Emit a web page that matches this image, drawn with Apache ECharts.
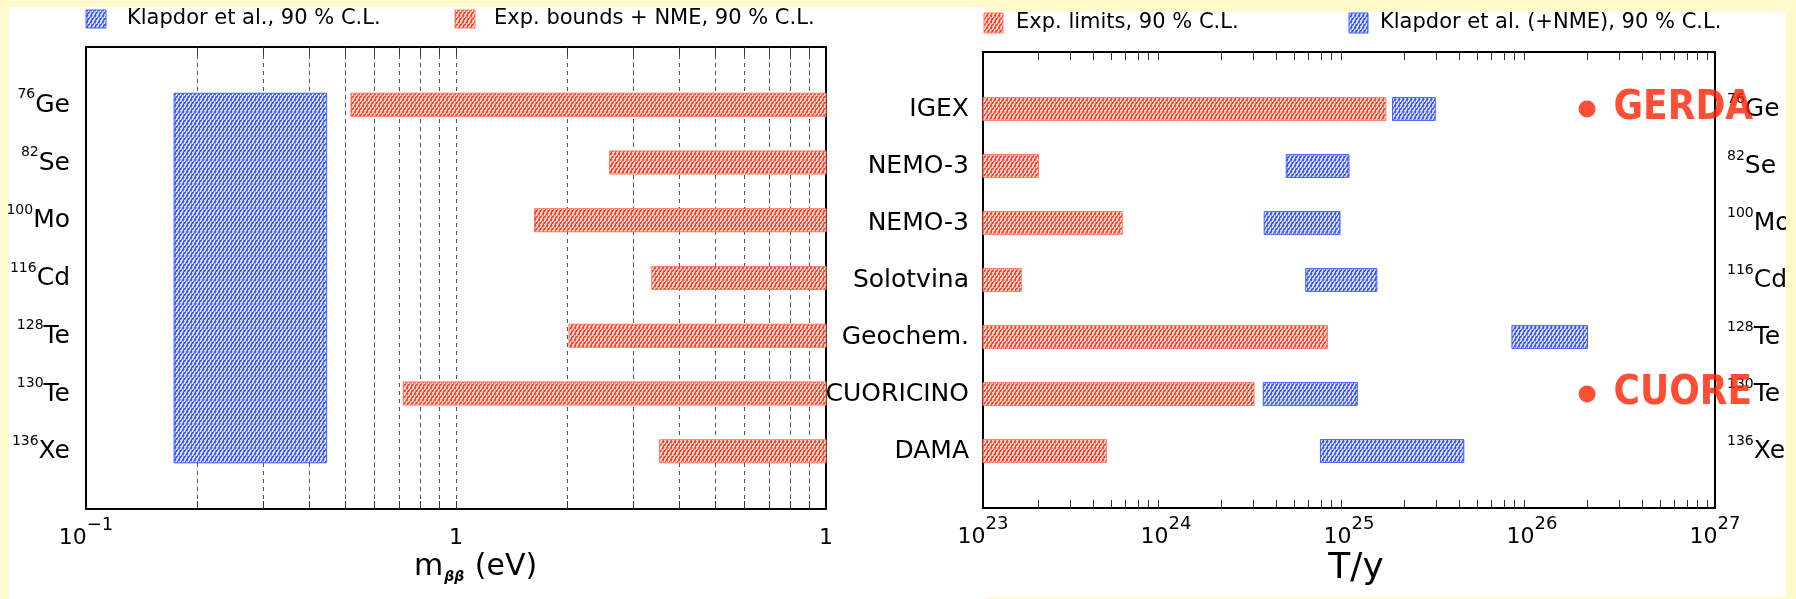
<!DOCTYPE html>
<html>
<head>
<meta charset="utf-8">
<script src="https://cdn.jsdelivr.net/npm/echarts@6/dist/echarts.min.js"></script>
<style>html,body{margin:0;padding:0;background:#FFF9CC;}#chart{width:1796px;height:599px;}</style>
</head>
<body>
<div id="chart"></div>
<script>
// ---------- data ----------
const isotopeMass = ['76', '82', '100', '116', '128', '130', '136'];
const isotopeElem = ['Ge', 'Se', 'Mo', 'Cd', 'Te', 'Te', 'Xe'];
const experiments = ['IGEX', 'NEMO-3', 'NEMO-3', 'Solotvina', 'Geochem.', 'CUORICINO', 'DAMA'];
// left panel: m_bb (eV)
const massBoundLower = [0.52, 2.60, 1.63, 3.38, 2.02, 0.72, 3.55];   // exp. bounds + NME, bar runs to axis max
const klapdorMass = [0.173, 0.447];                                  // Klapdor et al. band, all isotopes
const massAxisRange = [0.1, 10];
const massTickText = { '-1': ['10', '−1'], '0': ['1', ''], '1': ['1', ''] };
const massGridValues = [0.2, 0.3, 0.4, 0.5, 0.6, 0.7, 0.8, 0.9, 1, 2, 3, 4, 5, 6, 7, 8, 9];
// right panel: T / y
const expLimitT = [1.59e25, 2.01e23, 5.77e23, 1.62e23, 7.62e24, 3.03e24, 4.72e23];
const klapdorTLow = [1.73e25, 4.54e24, 3.44e24, 5.80e24, 7.77e25, 3.40e24, 6.98e24];
const klapdorTHigh = [2.96e25, 1.00e25, 8.93e24, 1.42e25, 2.01e26, 1.11e25, 4.24e25];
const timeAxisRange = [1e23, 1e27];
const timeDecades = [23, 24, 25, 26];
const minorMultipliers = [2, 3, 4, 5, 6, 7, 8, 9];
const futureNames = ['GERDA', 'CUORE'];
const futureT = [2e26, 2e26];
const futureRow = [0, 5];
const legendLeft = ['Klapdor et al., 90 % C.L.', 'Exp. bounds + NME, 90 % C.L.'];
const legendRight = ['Exp. limits, 90 % C.L.', 'Klapdor et al. (+NME), 90 % C.L.'];

// ---------- styles ----------
const FONT = '"DejaVu Sans", "Liberation Sans", sans-serif';
function makePattern(base) {
  const c = document.createElement('canvas');
  c.width = 4; c.height = 6;
  const g = c.getContext('2d');
  g.fillStyle = base; g.fillRect(0, 0, 4, 6);
  g.strokeStyle = 'rgba(255,255,255,0.9)'; g.lineWidth = 1.6;
  g.beginPath(); g.moveTo(-1, 8); g.lineTo(3, 0); g.moveTo(3, 8); g.lineTo(7, 0); g.stroke();
  g.fillStyle = 'rgba(255,255,255,0.6)'; g.fillRect(0, 2, 1, 1); g.fillRect(2, 5, 1, 1);
  return { image: c, repeat: 'repeat' };
}
const redPat = makePattern('#ff3a1c');
const bluePat = makePattern('#3452ff');
const RED_BORDER = '#ff7a62';
const BLUE_BORDER = '#4660ff';

const timeMinor = [];
timeDecades.forEach(d => minorMultipliers.forEach(m => timeMinor.push(m * Math.pow(10, d))));

const rowOf = i => i + 1;
const HALF = 0.2;

function barItem(x0, x1, row) { return [x0, x1, row]; }

function renderBar(pattern, border) {
  return function (params, api) {
    const r = api.value(2);
    const a = api.coord([api.value(0), r - HALF]);
    const b = api.coord([api.value(1), r + HALF]);
    return {
      type: 'rect',
      shape: { x: Math.min(a[0], b[0]), y: Math.min(a[1], b[1]), width: Math.abs(b[0] - a[0]), height: Math.abs(b[1] - a[1]) },
      style: { fill: pattern, stroke: border, lineWidth: 1 }
    };
  };
}
function renderBand(pattern, border) {
  return function (params, api) {
    const a = api.coord([api.value(0), api.value(2) - HALF]);
    const b = api.coord([api.value(1), api.value(3) + HALF]);
    return {
      type: 'rect',
      shape: { x: a[0], y: a[1], width: b[0] - a[0], height: b[1] - a[1] },
      style: { fill: pattern, stroke: border, lineWidth: 1 }
    };
  };
}
function renderGrid(dashed, tickLen) {
  return function (params, api) {
    const x = Math.round(api.coord([api.value(0), 0])[0]) + 0.5;
    const cs = params.coordSys;
    const ch = [];
    if (dashed) ch.push({ type: 'line', shape: { x1: x, y1: cs.y, x2: x, y2: cs.y + cs.height }, style: { stroke: '#555', lineWidth: 1, lineDash: [4, 4] } });
    ch.push({ type: 'line', shape: { x1: x, y1: cs.y, x2: x, y2: cs.y + tickLen }, style: { stroke: '#333', lineWidth: 1 } });
    ch.push({ type: 'line', shape: { x1: x, y1: cs.y + cs.height - tickLen, x2: x, y2: cs.y + cs.height }, style: { stroke: '#333', lineWidth: 1 } });
    return { type: 'group', children: ch };
  };
}

const supRich = {
  b: { fontSize: 25, lineHeight: 26, fontFamily: FONT, color: '#000', verticalAlign: 'bottom' },
  s: { fontSize: 14, lineHeight: 14, fontFamily: FONT, color: '#000', verticalAlign: 'bottom', padding: [0, 0, 16, 0] }
};
const expRich = {
  b: { fontSize: 22, lineHeight: 24, fontFamily: FONT, color: '#000', verticalAlign: 'bottom' },
  s: { fontSize: 18, lineHeight: 18, fontFamily: FONT, color: '#000', verticalAlign: 'bottom', padding: [0, 0, 15, 0] }
};
function isoLabel(v) {
  const i = Math.round(v) - 1;
  if (i < 0 || i >= isotopeMass.length) return '';
  return '{s|' + isotopeMass[i] + '}{b|' + isotopeElem[i] + '}';
}
function expLabel(v) {
  const i = Math.round(v) - 1;
  if (i < 0 || i >= experiments.length) return '';
  return '{b|' + experiments[i] + '}';
}
function yAxisBase(grid) {
  return {
    gridIndex: grid, type: 'value', min: 0, max: 8, interval: 1, inverse: true,
    axisLine: { show: false },
    axisTick: { show: true, inside: true, length: 12, lineStyle: { color: '#000', width: 1 } },
    splitLine: { show: false }
  };
}

const chart = echarts.init(document.getElementById('chart'), null, { renderer: 'canvas' });
const option = {
  backgroundColor: '#FFF9CC',
  animation: false,
  grid: [
    { left: 86, top: 47, width: 740, height: 462, show: true, borderColor: '#000', borderWidth: 2, backgroundColor: '#fff', z: 1 },
    { left: 983, top: 52, width: 732, height: 456, show: true, borderColor: '#000', borderWidth: 2, backgroundColor: '#fff', z: 1 }
  ],
  xAxis: [
    {
      gridIndex: 0, type: 'log', logBase: 10, min: massAxisRange[0], max: massAxisRange[1],
      axisLine: { show: false }, axisTick: { show: false }, splitLine: { show: false },
      axisLabel: {
        margin: 16, showMinLabel: true, showMaxLabel: true, hideOverlap: false,
        formatter: v => { const t = massTickText[String(Math.round(Math.log10(v)))]; return t ? '{b|' + t[0] + '}' + (t[1] ? '{s|' + t[1] + '}' : '') : ''; },
        rich: expRich
      }
    },
    {
      gridIndex: 1, type: 'log', logBase: 10, min: timeAxisRange[0], max: timeAxisRange[1],
      axisLine: { show: false }, axisTick: { show: false },
      splitLine: { show: true, lineStyle: { color: '#555', width: 1, type: [5, 3, 1, 3] } },
      axisLabel: {
        margin: 16, showMinLabel: true, showMaxLabel: true, hideOverlap: false,
        formatter: v => '{b|10}{s|' + Math.round(Math.log10(v)) + '}',
        rich: expRich
      }
    }
  ],
  yAxis: [
    Object.assign(yAxisBase(0), {
      splitLine: { show: true, lineStyle: { color: '#333', width: 1, type: [3, 3] } },
      axisLabel: { margin: 16, formatter: isoLabel, rich: supRich }
    }),
    Object.assign(yAxisBase(1), {
      position: 'left',
      splitLine: { show: true, lineStyle: { color: '#333', width: 1, type: [3, 3] } },
      axisLabel: { margin: 14, formatter: expLabel, rich: { b: { fontSize: 25, fontFamily: FONT, color: '#000' } } }
    }),
    Object.assign(yAxisBase(1), {
      position: 'right',
      axisLabel: { margin: 12, formatter: isoLabel, rich: supRich }
    })
  ],
  graphic: [
    { type: 'rect', z: -100, shape: { x: 9, y: 7, width: 977, height: 592 }, style: { fill: '#fff' } },
    { type: 'rect', z: -100, shape: { x: 986, y: 12, width: 800, height: 585 }, style: { fill: '#fff' } },
    // legends
    { type: 'rect', shape: { x: 86, y: 10, width: 20, height: 18 }, style: { fill: bluePat, stroke: BLUE_BORDER, lineWidth: 1 } },
    { type: 'text', x: 127, y: 19, style: { text: legendLeft[0], font: '21px ' + FONT, fill: '#000', verticalAlign: 'middle' } },
    { type: 'rect', shape: { x: 455, y: 10, width: 20, height: 18 }, style: { fill: redPat, stroke: RED_BORDER, lineWidth: 1 } },
    { type: 'text', x: 494, y: 19, style: { text: legendLeft[1], font: '21px ' + FONT, fill: '#000', verticalAlign: 'middle' } },
    { type: 'rect', shape: { x: 984, y: 13, width: 19, height: 20 }, style: { fill: redPat, stroke: RED_BORDER, lineWidth: 1 } },
    { type: 'text', x: 1016, y: 23, style: { text: legendRight[0], font: '21px ' + FONT, fill: '#000', verticalAlign: 'middle' } },
    { type: 'rect', shape: { x: 1349, y: 13, width: 19, height: 20 }, style: { fill: bluePat, stroke: BLUE_BORDER, lineWidth: 1 } },
    { type: 'text', x: 1380, y: 23, style: { text: legendRight[1], font: '21px ' + FONT, fill: '#000', verticalAlign: 'middle' } },
    // axis titles
    { type: 'text', x: 414, y: 552, style: {
        text: '{m|m}{sub|ββ}{m| (eV)}', verticalAlign: 'top',
        rich: {
          m: { fontSize: 30, lineHeight: 34, fontFamily: FONT, color: '#000', verticalAlign: 'top' },
          sub: { fontSize: 14, lineHeight: 14, fontFamily: FONT, fontWeight: 'bold', fontStyle: 'italic', color: '#000', verticalAlign: 'top', padding: [18, 1, 0, 1] }
        } } },
    { type: 'text', x: 1356, y: 569, style: { text: 'T/y', font: '36px ' + FONT, fill: '#000', align: 'center', verticalAlign: 'middle' } },
    // right clip strip
    { type: 'rect', z: 200, shape: { x: 1786, y: 0, width: 10, height: 599 }, style: { fill: '#FFF9CC' } }
  ],
  series: [
    { type: 'custom', name: 'grid-mass', xAxisIndex: 0, yAxisIndex: 0, silent: true, z: 1,
      renderItem: renderGrid(true, 8), data: massGridValues.map(v => [v, 0]) },
    { type: 'custom', name: 'ticks-time', xAxisIndex: 1, yAxisIndex: 1, silent: true, z: 1,
      renderItem: renderGrid(false, 8), data: timeMinor.map(v => [v, 0]) },
    { type: 'custom', name: legendLeft[0], xAxisIndex: 0, yAxisIndex: 0, z: 3,
      renderItem: renderBand(bluePat, BLUE_BORDER),
      data: [[klapdorMass[0], klapdorMass[1], rowOf(0), rowOf(isotopeMass.length - 1)]] },
    { type: 'custom', name: legendLeft[1], xAxisIndex: 0, yAxisIndex: 0, z: 3,
      renderItem: renderBar(redPat, RED_BORDER),
      data: massBoundLower.map((v, i) => barItem(v, massAxisRange[1], rowOf(i))) },
    { type: 'custom', name: legendRight[0], xAxisIndex: 1, yAxisIndex: 1, z: 3,
      renderItem: renderBar(redPat, RED_BORDER),
      data: expLimitT.map((v, i) => barItem(timeAxisRange[0], v, rowOf(i))) },
    { type: 'custom', name: legendRight[1], xAxisIndex: 1, yAxisIndex: 1, z: 3,
      renderItem: renderBar(bluePat, BLUE_BORDER),
      data: klapdorTLow.map((v, i) => barItem(v, klapdorTHigh[i], rowOf(i))) },
    { type: 'scatter', name: 'future', xAxisIndex: 1, yAxisIndex: 1, z: 10,
      symbol: 'circle', symbolSize: 17, itemStyle: { color: '#ff2200' },
      data: futureNames.map((n, i) => ({ name: n, value: [futureT[i], rowOf(futureRow[i])] })),
      label: { show: true, position: 'right', distance: 18, formatter: '{b}', color: '#ff2200',
        fontSize: 40, fontWeight: 'bold', fontFamily: '"DejaVu Sans Condensed", "Liberation Sans Narrow", "DejaVu Sans", sans-serif' } }
  ]
};
chart.setOption(option);
</script>
</body>
</html>
